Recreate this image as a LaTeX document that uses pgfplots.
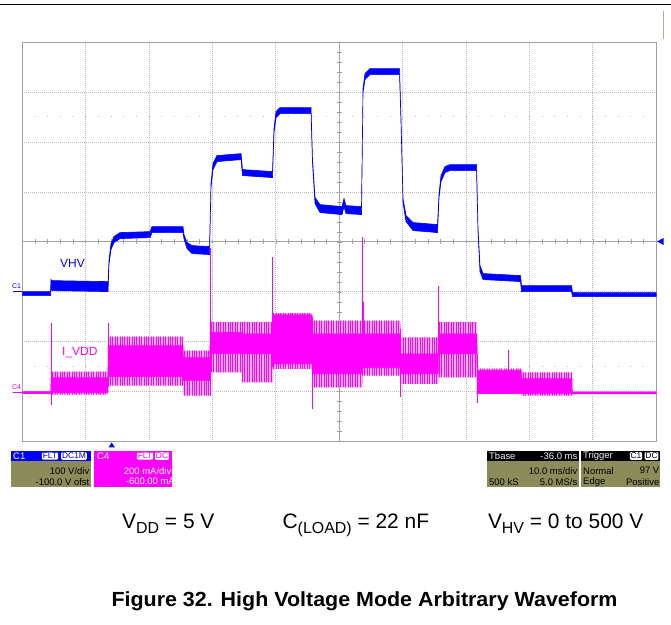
\documentclass[border=0pt]{standalone}
\usepackage{pgfplots}
\pgfplotsset{compat=1.18}
\usepackage{pgfplotstable}
\usetikzlibrary{patterns.meta}
\usepackage{fontspec}
\setmainfont{Liberation Sans}
\definecolor{scblue}{RGB}{0,0,255}
\definecolor{scmag}{RGB}{255,0,255}
\definecolor{scolive}{RGB}{140,140,90}
\definecolor{gridgray}{RGB}{185,185,185}
\definecolor{framegray}{RGB}{160,160,160}

% VHV trace (V) vs time (ms from trigger): outline of the noisy trace,
% upper edge left to right, then lower edge right to left
\pgfplotstableread{
t v
-14.00 0.8
-9.55 0.8
-9.47 24.8
-9.32 22.8
-0.48 20.8
-0.33 62.9
-0.01 97.0
0.46 111.0
1.41 119.0
6.14 121.0
6.46 131.1
11.35 131.1
11.50 115.0
11.98 99.0
12.77 93.0
15.53 91.0
15.76 217.2
16.08 257.3
16.71 273.3
20.50 277.3
20.73 245.3
25.46 241.3
25.70 327.4
26.02 361.5
26.65 369.5
31.54 369.5
31.77 267.3
32.17 189.2
32.96 175.1
36.43 171.1
36.74 187.2
37.06 173.1
39.50 171.1
39.74 407.6
40.05 437.7
40.84 447.7
45.50 447.7
45.73 347.5
46.05 187.2
46.52 153.1
47.62 139.1
51.49 135.1
51.73 197.2
52.04 233.3
52.67 251.3
53.46 255.3
57.64 255.3
57.88 127.0
58.19 52.9
58.67 36.9
64.58 32.9
64.74 12.8
72.63 12.8
72.78 -1.2
86.00 -1.2
86.00 -9.2
72.78 -9.2
72.63 0.8
64.74 0.8
64.58 20.9
58.67 24.9
58.19 40.9
57.88 119.0
57.64 243.3
53.46 243.3
52.67 239.3
52.04 221.3
51.73 189.2
51.49 119.1
47.62 123.1
46.52 141.1
46.05 179.2
45.73 339.5
45.50 435.7
40.84 435.7
40.05 425.7
39.74 399.6
39.50 155.1
37.06 157.1
36.74 171.2
36.43 155.1
32.96 159.1
32.17 177.2
31.77 259.3
31.54 357.5
26.65 357.5
26.02 349.5
25.70 319.4
25.46 229.3
20.73 233.3
20.50 265.3
16.71 261.3
16.08 245.3
15.76 209.2
15.53 75.0
12.77 77.0
11.98 87.0
11.50 107.0
11.35 119.1
6.46 119.1
6.14 109.0
1.41 107.0
0.46 99.0
-0.01 85.0
-0.33 54.9
-0.48 0.8
-9.32 2.8
-9.47 8.8
-9.55 -7.2
-14.00 -7.2
}\vhv

% I_VDD trace (mA): outer envelope of the switching spikes
\pgfplotstableread{
t i
-14.00 1
-9.50 1
-9.45 81
-0.50 81
-0.45 221
11.35 221
11.40 165
15.58 165
15.63 279
25.50 279
25.55 315
31.70 315
31.75 285
45.60 285
45.65 218
51.60 218
51.65 279
57.70 279
57.75 93
64.70 93
64.75 78
72.70 78
72.75 0
86.00 0
86.00 -8
72.75 -8
72.70 -15
64.75 -15
64.70 -7
57.75 -7
57.70 58
51.65 58
51.60 32
45.65 32
45.60 65
39.65 65
39.60 18
31.75 18
31.70 92
25.55 92
25.50 38
20.65 38
20.60 78
15.63 78
15.58 -15
11.40 -15
11.35 25
-0.45 25
-0.50 -11
-9.45 -11
-9.50 -7
-14.00 -7
}\iouter

% I_VDD trace (mA): dense core of the trace
\pgfplotstableread{
t i
-14.00 1
-9.50 1
-9.45 57
-0.50 57
-0.45 185
11.35 185
11.40 137
15.58 137
15.63 238
20.60 238
20.65 232
25.50 232
25.55 308
31.70 308
31.75 232
45.60 232
45.65 152
51.60 152
51.65 232
57.70 232
57.75 85
64.70 85
64.75 53
72.70 53
72.75 0
86.00 0
86.00 -8
72.75 -8
72.70 -7
57.75 -7
57.70 152
51.65 152
51.60 72
45.65 72
45.60 97
39.65 97
39.60 72
31.75 72
31.70 112
25.55 112
25.50 152
20.65 152
20.60 153
15.63 153
15.58 45
11.40 45
11.35 61
-0.45 61
-0.50 -3
-9.45 -3
-9.50 -7
-14.00 -7
}\icore

\begin{document}
\begin{tikzpicture}
\begin{scope}[x=1bp,y=1bp]
\path[use as bounding box] (0,0) rectangle (671,625);
% page rule
\draw[black, line width=1.3bp] (0,620.7) -- (671,620.7);
\draw[scolive!70, line width=1bp] (663,614) -- (663,586);
% graticule decorations (centre cross with sub-ticks, dotted rows)
\draw[framegray, line width=0.8bp] (22.3,383.5) -- (656.3,383.5);
\draw[framegray, line width=0.8bp] (339.3,183.3) -- (339.3,582.5);
\foreach \i in {1,...,49} \draw[framegray, line width=0.7bp] ({22.3+\i*12.68},381.3) -- ++(0,4.4);
\foreach \i in {1,...,39} \draw[framegray, line width=0.7bp] (337.1,{183.3+\i*9.98}) -- ++(4.4,0);
\foreach \yy in {508.1, 258.9} \draw[gridgray, line width=1bp, dash pattern=on 1bp off 11.68bp] (34.5,\yy) -- (650,\yy);
\end{scope}

\begin{axis}[at={(22.3bp,183.3bp)}, anchor=south west,
  width=634bp, height=399.2bp, scale only axis,
  xmin=-14, xmax=86, ymin=-300, ymax=500,
  xtick={-4,6,16,26,46,56,66,76}, ytick={-200,-100,0,200,300,400},
  xticklabels={}, yticklabels={}, major tick length=0pt,
  grid=major, major grid style={gridgray, line width=1bp, dash pattern=on 1bp off 1bp},
  axis line style={framegray, line width=1.4bp}]
\addplot[fill=scblue, draw=scblue, line width=0.6bp] table[x=t,y=v]{\vhv} -- cycle;
\end{axis}

\begin{axis}[at={(22.3bp,183.3bp)}, anchor=south west,
  width=634bp, height=399.2bp, scale only axis, hide axis,
  xmin=-14, xmax=86, ymin=-200, ymax=1400]
\addplot[fill=scmag!30, draw=none] table[x=t,y=i]{\iouter} -- cycle;
\addplot[pattern={Lines[angle=90,distance=2.4bp,line width=0.9bp]}, pattern color=scmag, draw=none] table[x=t,y=i]{\iouter} -- cycle;
\addplot[fill=scmag, draw=scmag, line width=0.5bp] table[x=t,y=i]{\icore} -- cycle;
\addplot[scmag, line width=0.8bp] coordinates {(-9.47,-51) (-9.47,277)};
\addplot[scmag, line width=0.8bp] coordinates {(-0.45,20) (-0.45,277)};
\addplot[scmag, line width=0.8bp] coordinates {(15.6,-15) (15.6,575)};
\addplot[scmag, line width=0.8bp] coordinates {(25.52,100) (25.52,539)};
\addplot[scmag, line width=0.8bp] coordinates {(31.72,-67) (31.72,300)};
\addplot[scmag, line width=0.8bp] coordinates {(39.65,200) (39.65,619)};
\addplot[scmag, line width=0.8bp] coordinates {(39.85,200) (39.85,360)};
\addplot[scmag, line width=0.8bp] coordinates {(45.65,-22) (45.65,250)};
\addplot[scmag, line width=0.8bp] coordinates {(51.6,150) (51.6,426)};
\addplot[scmag, line width=0.8bp] coordinates {(57.75,-46) (57.75,150)};
\addplot[scmag, line width=0.8bp] coordinates {(62.6,0) (62.6,169)};
\end{axis}

\begin{scope}[x=1bp,y=1bp]
% channel ground markers and labels
\draw[scblue, line width=1.5bp] (13,333.3) -- (22,333.3);
\node[anchor=south west, inner sep=0pt, text=scblue, font=\fontsize{7}{7}\selectfont] at (12,336) {C1};
\draw[scmag, line width=1.5bp] (13,232.3) -- (22,232.3);
\node[anchor=south west, inner sep=0pt, text=scmag, font=\fontsize{7}{7}\selectfont] at (12,235) {C4};
\node[anchor=west, inner sep=0pt, text=scblue, font=\fontsize{12}{12}\selectfont] at (60,362) {VHV};
\node[anchor=west, inner sep=0pt, text=scmag, font=\fontsize{12}{12}\selectfont] at (62,272) {I\_VDD};
% trigger markers
\fill[scblue] (657,383.5) -- (663.5,387) -- (663.5,380) -- cycle;
\fill[scblue] (108.5,177.5) -- (115,177.5) -- (111.7,182.5) -- cycle;

% info boxes
\tikzset{lab/.style={inner sep=0pt, font=\fontsize{9.5}{9.5}\selectfont},
         tag/.style={inner sep=0.8bp, rounded corners=1.2bp, font=\fontsize{8.5}{8.5}\selectfont}}
% C1
\fill[scolive] (10.7,138.3) rectangle (90.7,174.3);
\fill[scblue] (10.7,164) rectangle (90.7,174.3);
\node[lab, anchor=west, text=white] at (13,169) {C1};
\node[tag, fill=white, text=scblue] at (50,169) {FLT};
\node[tag, fill=white, text=scblue] at (74,169) {DC1M};
\node[lab, anchor=east] at (89.5,154.3) {100 V/div};
\node[lab, anchor=east] at (89.5,143.3) {-100.0 V ofst};
% C4
\fill[scmag] (94.1,138.3) rectangle (172.4,174.3);
\node[lab, anchor=west, text=white] at (97,169) {C4};
\node[tag, fill=white, text=scmag] at (145,169) {FLT};
\node[tag, fill=white, text=scmag] at (162,169) {DC};
\node[lab, anchor=east, text=white] at (171.5,154.3) {200 mA/div};
\begin{scope}
\clip (94.1,138.3) rectangle (172.4,174.3);
\node[lab, anchor=east, text=white] at (175,143.3) {-600.00 mA};
\end{scope}
% Tbase
\fill[scolive] (487,138.3) rectangle (578.5,174.3);
\fill[black] (487,164) rectangle (578.5,174.3);
\node[lab, anchor=west, text=white!85!scolive] at (489,169) {Tbase};
\node[lab, anchor=east, text=white!85!scolive] at (577.5,169) {-36.0 ms};
\node[lab, anchor=east] at (577.5,154.3) {10.0 ms/div};
\node[lab, anchor=west] at (489,143.3) {500 kS};
\node[lab, anchor=east] at (577.5,143.3) {5.0 MS/s};
% Trigger
\fill[scolive] (581,138.3) rectangle (660.3,174.3);
\fill[black] (581,164) rectangle (660.3,174.3);
\node[lab, anchor=west, text=white!85!scolive] at (583,169) {Trigger};
\node[tag, fill=white, text=black] at (636,169) {C1};
\node[tag, fill=white, text=black] at (651.5,169) {DC};
\node[lab, anchor=west] at (583,154.3) {Normal};
\node[lab, anchor=east] at (659.5,154.3) {97 V};
\node[lab, anchor=west] at (583,143.3) {Edge};
\node[lab, anchor=east] at (659.5,143.3) {Positive};

% conditions line
\newcommand\sub[1]{\raisebox{-5bp}{\fontsize{16}{16}\selectfont #1}}
\node[anchor=base west, inner sep=0pt, font=\fontsize{21}{21}\selectfont] at (122,96.7) {V\sub{DD} = 5 V};
\node[anchor=base west, inner sep=0pt, font=\fontsize{21}{21}\selectfont] at (282.4,96.7) {C\sub{(LOAD)} = 22 nF};
\node[anchor=base west, inner sep=0pt, font=\fontsize{21}{21}\selectfont] at (487.8,96.7) {V\sub{HV} = 0 to 500 V};
% caption
\node[anchor=base west, inner sep=0pt, font=\fontsize{20.5}{20.5}\selectfont\bfseries] at (111.3,18.3) {\scalebox{1.05}[1]{Figure 32. High Voltage Mode Arbitrary Waveform}};
\end{scope}
\end{tikzpicture}
\end{document}
